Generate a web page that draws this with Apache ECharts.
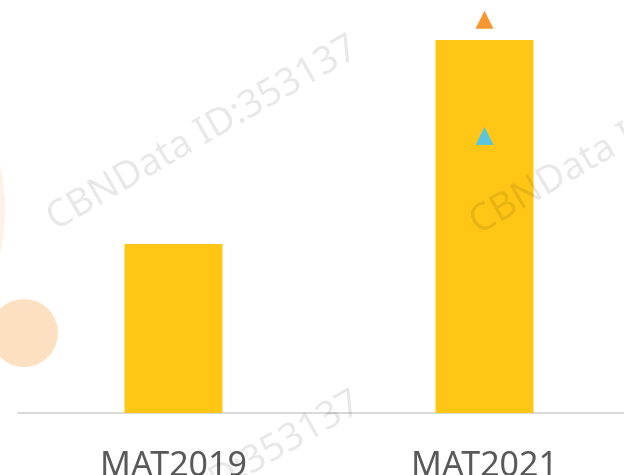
<!DOCTYPE html>
<html>
<head>
<meta charset="utf-8">
<script src="https://cdn.jsdelivr.net/npm/echarts@6/dist/echarts.min.js"></script>
<style>
html, body { margin: 0; padding: 0; background: #fff; }
#main { width: 624px; height: 475px; }
</style>
</head>
<body>
<div id="main"></div>
<script>
var categories = ['MAT2019', 'MAT2021'];
var barValues = [40.9, 90.3];
var upOrange = ['-', 95.2];
var upBlue = ['-', 67.1];
var watermark = 'CBNData ID:353137';

function mark(x, y) {
    return {
        type: 'text', x: x, y: y, rotation: Math.PI / 6, z: 100, silent: true,
        style: {
            text: watermark, fill: 'rgba(0,0,0,0.09)',
            font: '38px "Noto Sans", sans-serif',
            textAlign: 'left', textVerticalAlign: 'bottom'
        }
    };
}

var myChart = echarts.init(document.getElementById('main'));
var option = {
    animation: false,
    backgroundColor: '#fff',
    grid: { left: 18, width: 622, top: 0, bottom: 62, outerBoundsMode: 'none', containLabel: false },
    xAxis: {
        type: 'category',
        data: categories,
        axisLine: { lineStyle: { color: '#d9d9d9', width: 2 } },
        axisTick: { show: false },
        axisLabel: { color: '#595959', fontSize: 34, fontFamily: 'Noto Sans', margin: 36 }
    },
    yAxis: { type: 'value', min: 0, max: 100, show: false },
    graphic: [
        { type: 'circle', z: -10, shape: { cx: -200, cy: 210, r: 205 }, style: { fill: '#fef2e7' } },
        { type: 'circle', z: -10, shape: { cx: 24, cy: 333, r: 34 }, style: { fill: '#fddfc1' } },
        mark(59, 238),
        mark(482, 242),
        mark(62, 593)
    ],
    series: [
        {
            type: 'bar', data: barValues, barWidth: 98,
            itemStyle: { color: '#ffc616' }
        },
        {
            type: 'scatter', data: upOrange, symbol: 'triangle', symbolSize: 18,
            itemStyle: { color: '#f7962e', opacity: 1 }
        },
        {
            type: 'scatter', data: upBlue, symbol: 'triangle', symbolSize: 18,
            itemStyle: { color: '#5bc5de', opacity: 1 }
        }
    ]
};
myChart.setOption(option);
</script>
</body>
</html>
